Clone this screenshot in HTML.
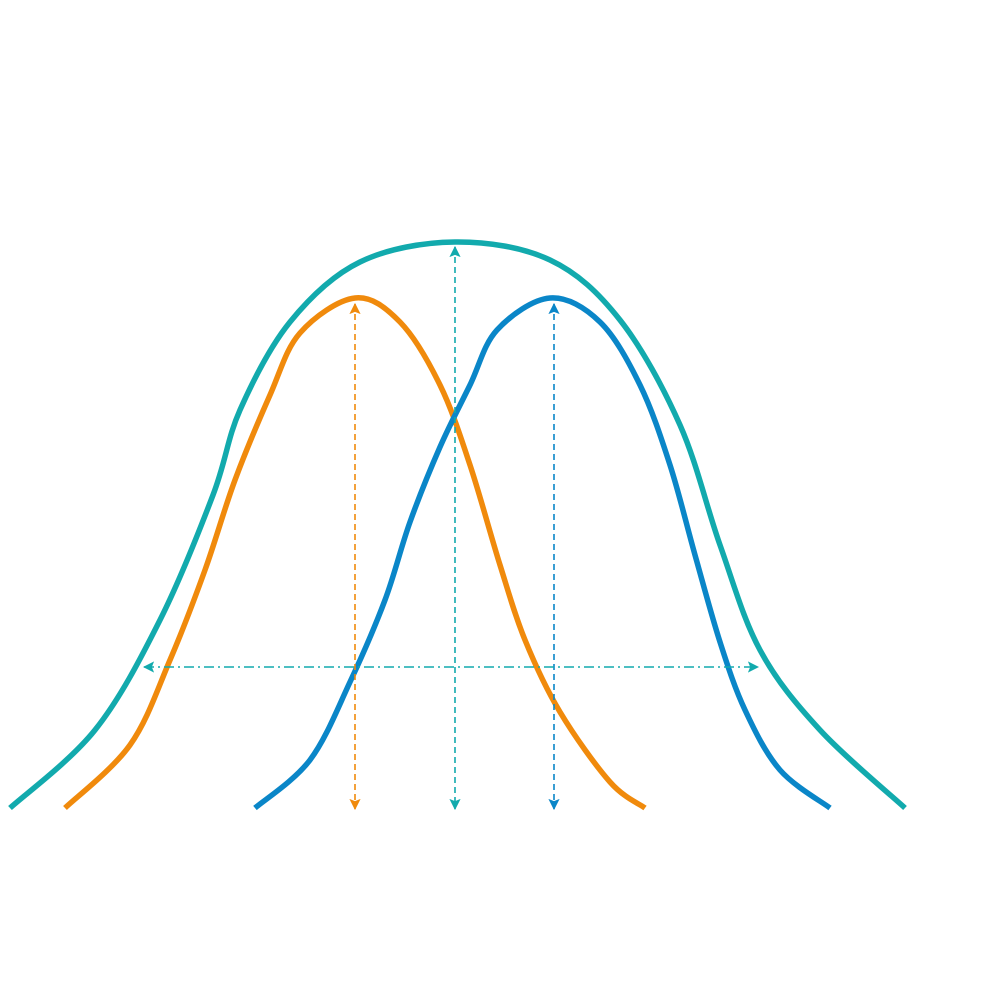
<!DOCTYPE html>
<html><head><meta charset="utf-8"><style>html,body{margin:0;padding:0;background:#fff}svg{display:block}</style></head>
<body>
<svg id="s" width="1000" height="1000" viewBox="0 0 1000 1000">
<defs>
<marker id="ao" viewBox="0 0 10 10" refX="9" refY="5" markerWidth="7" markerHeight="7" orient="auto-start-reverse"><path d="M0,0L10,5L0,10L2,5z" fill="#f08a0c"/></marker>
<marker id="at" viewBox="0 0 10 10" refX="9" refY="5" markerWidth="7" markerHeight="7" orient="auto-start-reverse"><path d="M0,0L10,5L0,10L2,5z" fill="#12aaad"/></marker>
<marker id="ab" viewBox="0 0 10 10" refX="9" refY="5" markerWidth="7" markerHeight="7" orient="auto-start-reverse"><path d="M0,0L10,5L0,10L2,5z" fill="#0a86c8"/></marker>
</defs>
<g id="curves" fill="none" stroke-width="5.5" stroke-linecap="butt" stroke-linejoin="round"></g>
<line x1="355" y1="304" x2="355" y2="809" stroke="#f08a0c" stroke-width="1.6" stroke-dasharray="6,4" marker-start="url(#ao)" marker-end="url(#ao)"/>
<line x1="455" y1="247" x2="455" y2="809" stroke="#12aaad" stroke-width="1.6" stroke-dasharray="6,4" marker-start="url(#at)" marker-end="url(#at)"/>
<line x1="554" y1="304" x2="554" y2="809" stroke="#0a86c8" stroke-width="1.6" stroke-dasharray="6,4" marker-start="url(#ab)" marker-end="url(#ab)"/>
<line x1="144" y1="667" x2="758" y2="667" stroke="#12aaad" stroke-width="1.6" stroke-dasharray="10,4,2,4" marker-start="url(#at)" marker-end="url(#at)"/>
</svg>
<script>
function smooth(p){let d="M"+p[0][0]+","+p[0][1];for(let i=0;i<p.length-1;i++){const a=p[i-1]||p[i],b=p[i],c=p[i+1],e=p[i+2]||c;d+=" C"+(b[0]+(c[0]-a[0])/6)+","+(b[1]+(c[1]-a[1])/6)+" "+(c[0]-(e[0]-b[0])/6)+","+(c[1]-(e[1]-b[1])/6)+" "+c[0]+","+c[1];}return d;}
const S={
"#12aaad":[[10,808],[95,730],[160,620],[213,495],[240,410],[290,322],[360,262],[455,242],[550,260],[620,320],[680,425],[720,545],[760,650],[820,730],[905,808]],
"#f08a0c":[[65,808],[130,745],[170,660],[205,570],[235,480],[270,395],[300,333],[355,298],[400,322],[440,385],[470,465],[500,565],[525,640],[560,712],[610,782],[645,808]],
"#0a86c8":[[255,808],[310,760],[350,682],[385,600],[410,522],[440,447],[470,385],[497,330],[550,298],[600,322],[640,385],[670,465],[695,555],[720,642],[745,710],[780,770],[830,808]]};
const g=document.getElementById("curves");
for(const k in S){const p=document.createElementNS("http://www.w3.org/2000/svg","path");p.setAttribute("d",smooth(S[k]));p.setAttribute("stroke",k);g.appendChild(p);}
</script>
</body></html>
